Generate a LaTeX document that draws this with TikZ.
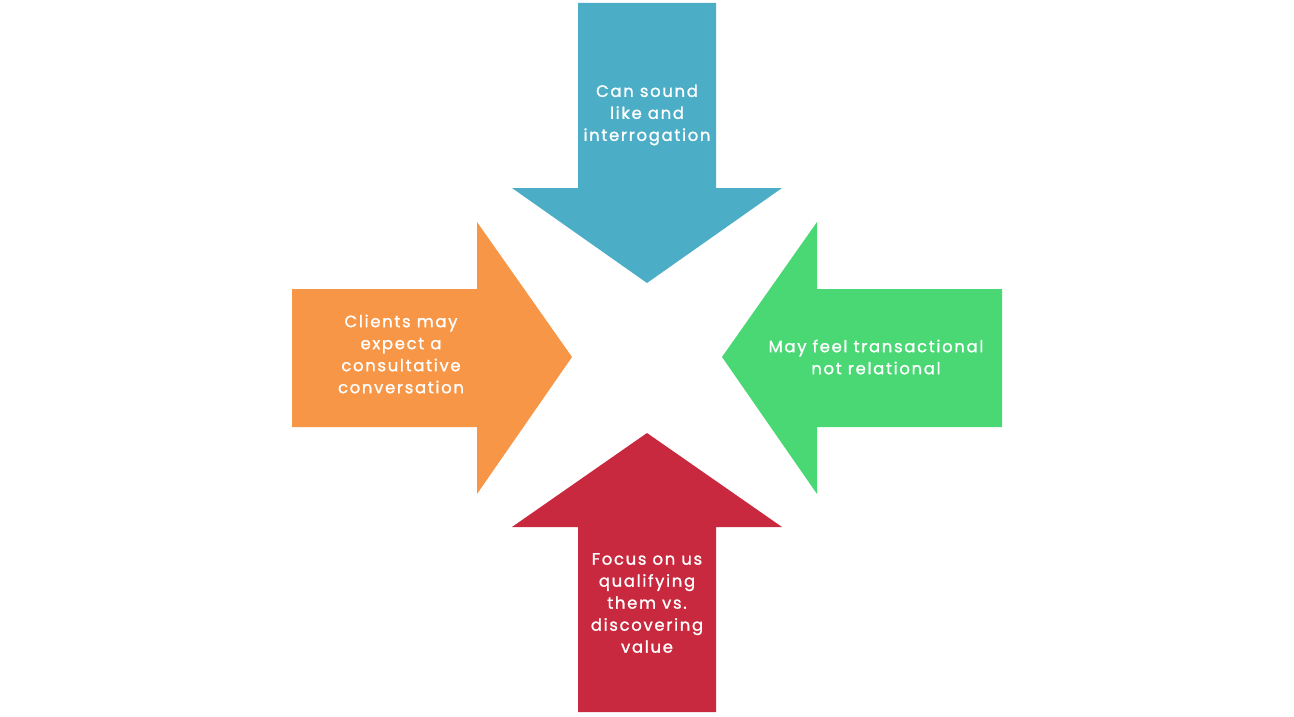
\documentclass[tikz,border=0pt]{standalone}
\usepackage{fontspec}
\setmainfont{Poppins}[LetterSpace=10,FakeBold=1.2]
\usetikzlibrary{positioning}

\definecolor{arrowblue}{HTML}{4BADC6}
\definecolor{arroworange}{HTML}{F79646}
\definecolor{arrowgreen}{HTML}{49D874}
\definecolor{arrowred}{HTML}{C8293E}

\tikzset{
  label text/.style={text=white, align=center, inner sep=0pt,
    font=\fontsize{16.5}{22}\selectfont}
}

\begin{document}
\begin{tikzpicture}[x=1pt,y=-1pt]
  \useasboundingbox (0,0) rectangle (1294,717);
  % four arrows pointing to the centre
  \fill[arrowblue] (578,3) -- (716,3) -- (716,188) -- (782,188) -- (647,283) -- (512,188) -- (578,188) -- cycle;
  \fill[arrowred] (578,712) -- (716,712) -- (716,527) -- (782,527) -- (647,433) -- (512,527) -- (578,527) -- cycle;
  \fill[arroworange] (292,289) -- (292,427) -- (477,427) -- (477,494) -- (572,357) -- (477,222) -- (477,289) -- cycle;
  \fill[arrowgreen] (1002,289) -- (1002,427) -- (817,427) -- (817,494) -- (722,357) -- (817,222) -- (817,289) -- cycle;
  \node[label text] (top) at (647,115) {Can sound\\like and\\interrogation};
  \node[label text] (left) at (401,354) {Clients may\\expect a\\consultative\\conversation};
  \node[label text] (right) at (876,357) {May feel transactional\\not relational};
  \node[label text] (bottom) at (647,603) {Focus on us\\qualifying\\them vs.\\discovering\\value};
\end{tikzpicture}
\end{document}
